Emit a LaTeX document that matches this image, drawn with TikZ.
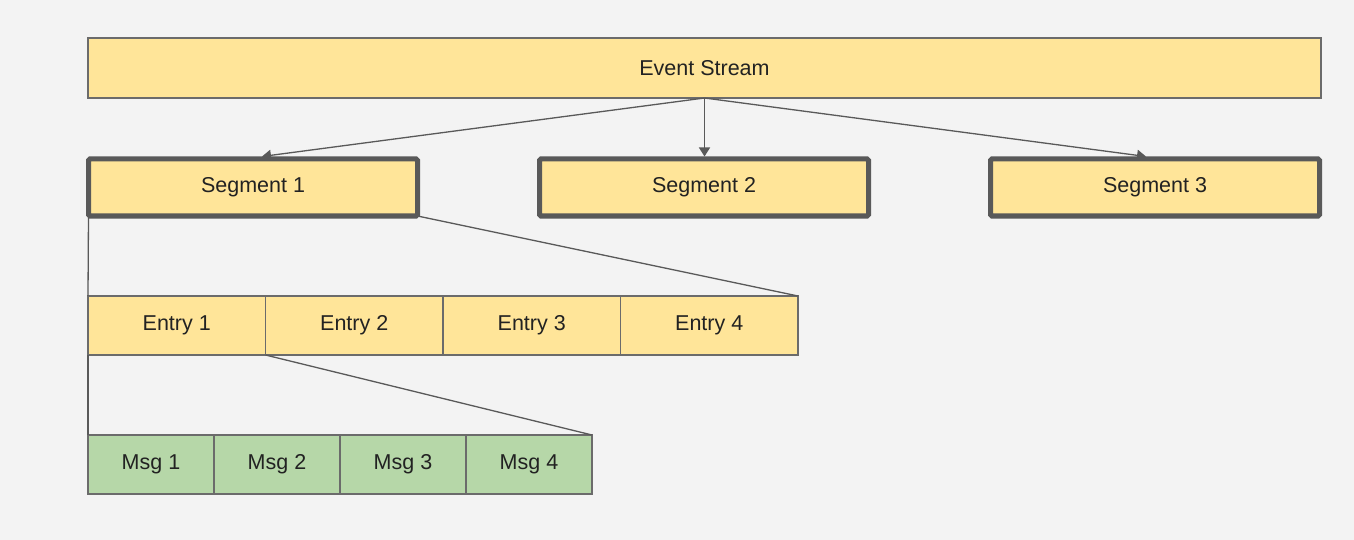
\documentclass[tikz,border=0pt]{standalone}
\usepackage{fontspec}
\setmainfont{Liberation Sans}
\usetikzlibrary{arrows.meta}
\definecolor{yel}{HTML}{FFE599}
\definecolor{grn}{HTML}{B6D7A8}
\definecolor{edgec}{HTML}{6B6B6B}
\definecolor{darkc}{HTML}{595959}
\definecolor{bgc}{HTML}{F3F3F3}
\definecolor{txt}{HTML}{222222}
\begin{document}
\begin{tikzpicture}[x=1pt,y=-1pt,
  cell/.style={draw=edgec, line width=1.3pt, inner sep=0pt, outer sep=0pt, anchor=north west,
    font=\fontsize{21.5}{25}\selectfont, text=txt},
  ycell/.style={cell, fill=yel},
  gcell/.style={cell, fill=grn},
  segbox/.style={draw=darkc, fill=yel, line width=5pt, rounded corners=1.5pt, inner sep=0pt,
    outer sep=0pt, anchor=north west, minimum width=329pt, minimum height=57pt,
    font=\fontsize{21.5}{25}\selectfont, text=txt},
  conn/.style={draw=darkc, line width=1.3pt},
  arr/.style={conn, -{Triangle[width=11pt,length=9pt]}}
]
\fill[bgc] (0,0) rectangle (1354,540);
\useasboundingbox (0,0) rectangle (1354,540);

\node[ycell, minimum width=1233pt, minimum height=60pt] (es) at (88,38) {Event Stream};

\node[segbox] (s1) at (88.5,159) {Segment 1};
\node[segbox] (s2) at (539.5,159) {Segment 2};
\node[segbox] (s3) at (990.5,159) {Segment 3};

\foreach \i/\t in {1/Entry 1,2/Entry 2,3/Entry 3,4/Entry 4}{
  \node[ycell, minimum width=177.5pt, minimum height=59pt] (e\i) at ({88+177.5*(\i-1)},296) {\t};
}
\foreach \i/\t in {1/Msg 1,2/Msg 2,3/Msg 3,4/Msg 4}{
  \node[gcell, minimum width=126pt, minimum height=59pt] (m\i) at ({88+126*(\i-1)},435) {\t};
}

\draw[arr] (es.south) -- ([xshift=9pt,yshift=2.5pt]s1.north);
\draw[arr] (es.south) -- ([yshift=2.5pt]es.south |- s2.north);
\draw[arr] (es.south) -- ([xshift=-9pt,yshift=2.5pt]s3.north);

\draw[conn] (s1.south west) -- (e1.north west);
\draw[conn] (s1.south east) -- (e4.north east);
\draw[conn] (e1.south west) -- (m1.north west);
\draw[conn] (e1.south east) -- (m4.north east);
\end{tikzpicture}
\end{document}
